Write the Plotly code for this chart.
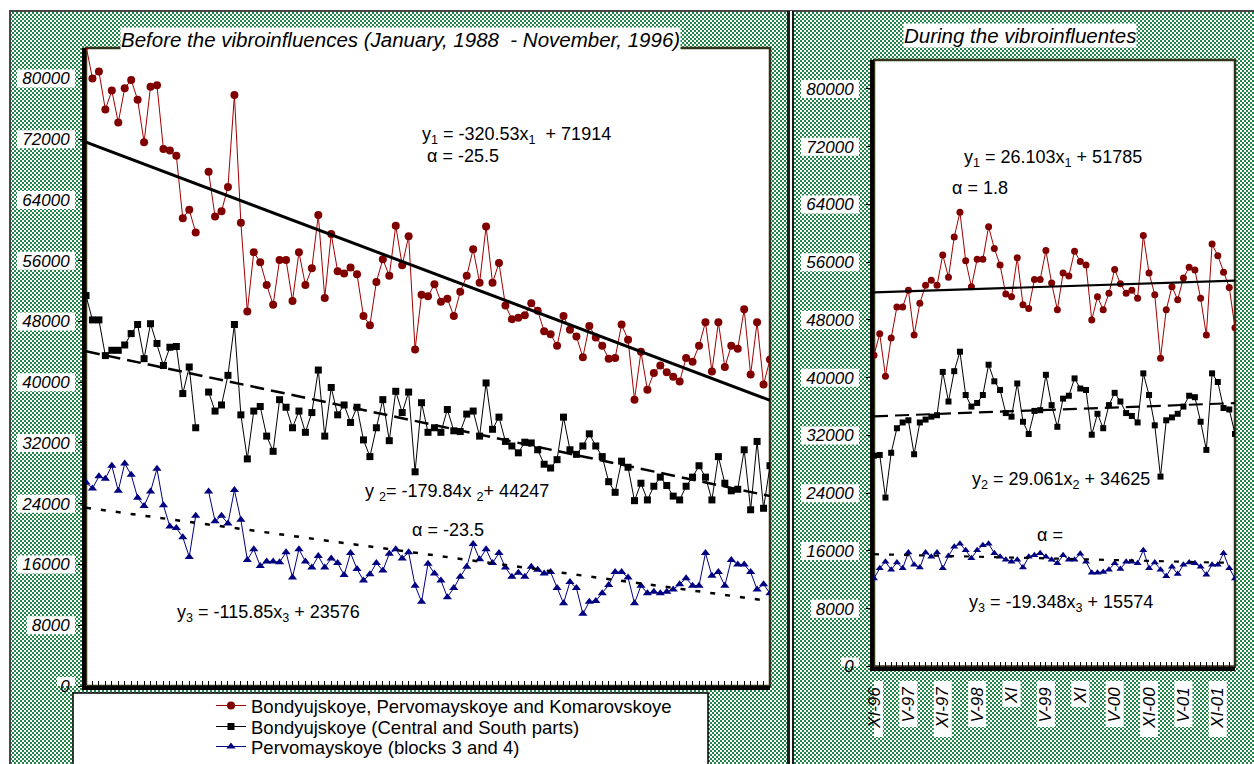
import base64
import struct
import zlib

import numpy as np
import plotly.graph_objects as go

W, H = 1254, 764

# ---------------- data (values in thousands) ----------------
# Left panel: January 1988 - November 1996 (monthly, 107 points; one month missing)
red_left_k = [84.3, 80.0, 80.9, 75.9, 78.4, 74.2, 78.7, 79.8, 77.2, 71.6,
              78.9, 79.1, 70.7, 70.5, 69.8, 61.6, 62.7, 59.7, None, 67.7,
              61.8, 62.5, 65.7, 77.8, 61.0, 49.3, 57.1, 55.8, 52.8, 50.2,
              56.1, 56.1, 50.7, 57.1, 52.8, 55.0, 62.0, 51.1, 59.5, 54.6,
              54.3, 55.1, 54.2, 48.7, 47.5, 53.2, 56.2, 54.0, 60.6, 55.4,
              59.2, 44.3, 51.5, 51.3, 52.9, 50.6, 51.0, 48.7, 51.9, 54.0,
              57.5, 53.1, 60.5, 53.1, 55.7, 50.1, 48.3, 48.5, 48.8, 50.4,
              49.4, 46.7, 46.3, 44.8, 48.7, 46.9, 46.0, 43.3, 47.4, 45.9,
              44.8, 43.1, 43.2, 47.6, 45.6, 37.7, 44.0, 39.0, 41.2, 42.2,
              41.3, 40.7, 40.1, 43.2, 42.7, 44.8, 47.9, 41.4, 47.9, 42.0,
              44.8, 44.4, 49.6, 41.0, 47.9, 39.7, 43.0]
black_left_k = [51.4, 48.2, 48.2, 43.5, 44.2, 44.2, 44.9, 46.4, 47.6, 43.1,
                47.7, 45.1, 42.2, 44.6, 44.7, 38.5, 42.0, 34.0, None, 38.7,
                36.2, 37.0, 40.9, 47.6, 35.7, 29.9, 36.2, 36.8, 32.9, 30.9,
                37.7, 36.7, 34.0, 36.2, 33.4, 36.0, 41.6, 32.9, 39.3, 35.7,
                37.0, 34.7, 36.7, 32.4, 30.2, 34.0, 37.7, 32.3, 38.8, 36.0,
                38.7, 28.2, 37.3, 33.4, 34.0, 33.4, 36.4, 33.6, 33.5, 35.8,
                36.2, 32.9, 39.9, 33.8, 35.4, 32.2, 31.6, 30.7, 32.1, 32.0,
                31.1, 29.2, 28.7, 29.8, 35.4, 31.1, 30.5, 31.6, 33.2, 31.6,
                30.2, 26.9, 25.5, 29.6, 28.8, 24.4, 26.7, 24.5, 26.3, 27.5,
                26.4, 25.0, 24.5, 26.3, 27.5, 29.0, 27.5, 24.5, 30.2, 26.7,
                25.7, 25.9, 31.1, 23.2, 32.2, 23.4, 29.0]
blue_left_k = [26.8, 26.0, 27.6, 27.3, 29.0, 25.7, 29.3, 27.8, 24.8, 23.7,
               25.6, 28.6, 23.8, 21.0, 20.8, 19.6, 17.0, 22.4, None, 25.6,
               21.7, 22.4, 21.4, 25.8, 21.9, 16.6, 18.0, 15.8, 16.4, 16.4,
               16.3, 17.6, 14.3, 18.0, 16.4, 15.6, 17.1, 15.6, 16.8, 16.2,
               14.6, 17.5, 15.4, 13.9, 14.7, 16.2, 15.2, 17.4, 18.0, 16.8,
               17.6, 13.2, 11.1, 16.1, 14.8, 13.9, 11.7, 12.9, 14.4, 15.7,
               18.7, 16.7, 18.0, 16.2, 17.5, 15.6, 14.4, 14.9, 14.4, 15.7,
               15.3, 14.8, 15.0, 12.9, 10.9, 13.7, 12.9, 9.5, 11.1, 11.2,
               12.2, 13.3, 15.0, 15.0, 14.3, 10.9, 13.2, 12.2, 12.4, 12.2,
               12.4, 12.7, 13.4, 14.2, 13.2, 13.2, 17.5, 14.5, 15.0, 13.2,
               16.6, 16.0, 16.0, 15.0, 12.7, 13.4, 12.2]

# Right panel: November 1996 onwards (monthly, 64 points)
red_right_k = [43.1, 46.1, 40.2, 45.5, 49.8, 49.8, 52.1, 45.9, 50.3, 52.8,
               53.5, 52.8, 57.0, 53.9, 59.5, 62.9, 56.2, 52.6, 56.4, 56.4,
               60.9, 57.9, 55.6, 51.6, 51.2, 56.6, 50.1, 49.6, 53.6, 53.6,
               57.6, 53.1, 49.4, 54.5, 54.1, 57.5, 56.1, 55.6, 48.0, 51.2,
               49.4, 51.7, 55.0, 53.0, 51.7, 52.1, 51.0, 59.7, 54.5, 51.5,
               42.7, 49.4, 52.6, 50.8, 53.8, 55.3, 54.9, 51.0, 45.9, 58.5,
               56.9, 54.6, 52.5, 46.9]
black_right_k = [29.2, 29.3, 23.4, 29.6, 33.0, 33.8, 34.1, 29.4, 33.8, 34.2,
                 34.6, 34.8, 40.8, 36.7, 40.9, 43.6, 37.6, 36.0, 36.5, 37.6,
                 41.8, 39.5, 38.3, 35.1, 34.6, 39.2, 33.9, 32.2, 35.4, 35.5,
                 40.4, 36.2, 33.2, 37.1, 37.5, 39.9, 38.5, 38.3, 32.1, 35.0,
                 33.0, 36.2, 37.9, 36.7, 35.1, 34.7, 33.8, 40.6, 37.6, 33.4,
                 26.3, 34.1, 34.5, 35.0, 36.0, 37.5, 37.3, 33.9, 30.0, 40.6,
                 39.4, 35.8, 35.6, 32.2]
blue_right_k = [12.2, 13.6, 14.5, 13.4, 14.4, 13.6, 15.8, 14.1, 13.7, 15.8,
                15.2, 15.8, 13.6, 15.3, 16.6, 17.0, 16.1, 15.0, 16.1, 16.8,
                17.0, 15.7, 15.2, 14.8, 14.5, 14.8, 13.7, 15.2, 15.4, 15.7,
                15.2, 14.8, 14.3, 15.4, 14.8, 14.8, 15.6, 14.5, 13.0, 13.0,
                13.1, 13.4, 14.3, 13.5, 14.5, 14.5, 14.3, 16.1, 13.6, 14.4,
                13.4, 12.5, 13.8, 12.8, 14.1, 14.4, 14.3, 13.8, 12.7, 14.1,
                14.1, 15.7, 13.6, 12.2]

series_names = ["Bondyujskoye, Pervomayskoye and Komarovskoye",
                "Bondyujskoye (Central and South parts)",
                "Pervomayskoye (blocks 3 and 4)"]

# Linear trends printed on the chart (y = slope * x + intercept, x = 1..N)
left_slopes = [-320.53, -179.84, -115.85]
left_intercepts = [71914, 44247, 23576]
right_slopes = [26.103, 29.061, -19.348]
right_intercepts = [51785, 34625, 15574]

y_ticks = [0, 8000, 16000, 24000, 32000, 40000, 48000, 56000, 64000, 72000, 80000]
right_xtick_pos = [0, 6, 12, 18, 24, 30, 36, 42, 48, 54, 60]
right_xtick_text = ["XI-96", "V-97", "XI-97", "V-98", "XI", "V-99", "XI",
                    "V-00", "XI-00", "V-01", "XI-01"]

left_title = "Before the vibroinfluences (January, 1988\u00a0 - November, 1996)"
right_title = "During the vibroinfluentes"


def k(vals):
    return [None if v is None else v * 1000 for v in vals]


red_left, black_left, blue_left = k(red_left_k), k(black_left_k), k(blue_left_k)
red_right, black_right, blue_right = k(red_right_k), k(black_right_k), k(blue_right_k)

# ---------------- background pattern image ----------------
yy, xx = np.mgrid[0:H, 0:W]
mask = ((xx // 2) + (yy // 2)) % 2 == 0
img = np.full((H, W, 3), 255, np.uint8)
img[mask] = (34, 134, 72)
img[:10, :] = 255
img[:, :9] = 255
img[10:12, 9:] = (70, 70, 70)
img[10:, 9:11] = (70, 70, 70)
img[11:, 787:790] = (25, 25, 25)
img[11:, 790:792] = 255
img[11:, 792:794] = (25, 25, 25)


def png_b64(arr):
    h, w, _ = arr.shape
    raw = b"".join(b"\x00" + arr[r].tobytes() for r in range(h))

    def chunk(tag, data):
        c = struct.pack(">I", len(data)) + tag + data
        return c + struct.pack(">I", zlib.crc32(tag + data) & 0xFFFFFFFF)

    png = (b"\x89PNG\r\n\x1a\n"
           + chunk(b"IHDR", struct.pack(">IIBBBBB", w, h, 8, 2, 0, 0, 0))
           + chunk(b"IDAT", zlib.compress(raw, 9))
           + chunk(b"IEND", b""))
    return "data:image/png;base64," + base64.b64encode(png).decode()


FONT = "Liberation Sans, Arial, sans-serif"
RED, RED_LINE = "#800000", "#a00000"
BLUE = "#000080"

fig = go.Figure()

styles = [
    dict(color=RED, line=RED_LINE, symbol="circle", size=8),
    dict(color="black", line="black", symbol="square", size=7),
    dict(color=BLUE, line=BLUE, symbol="triangle-up", size=8),
]
legend_ids = ["legend", "legend2", "legend3"]

left_data = [red_left, black_left, blue_left]
right_data = [red_right, black_right, blue_right]

for i, ys in enumerate(left_data):
    st = styles[i]
    fig.add_trace(go.Scatter(
        x=list(range(len(ys))), y=ys, mode="lines+markers", name=series_names[i],
        line=dict(color=st["line"], width=1),
        marker=dict(symbol=st["symbol"], size=st["size"], color=st["color"]),
        connectgaps=False, xaxis="x", yaxis="y", showlegend=True,
        legend=legend_ids[i]))

for i, ys in enumerate(right_data):
    st = styles[i]
    fig.add_trace(go.Scatter(
        x=list(range(len(ys))), y=ys, mode="lines+markers", name=series_names[i],
        line=dict(color=st["line"], width=1),
        marker=dict(symbol=st["symbol"], size=st["size"] - 1, color=st["color"]),
        xaxis="x2", yaxis="y2", showlegend=False))

dashes = ["solid", "14px,7px", "5px,10px"]
widths_left = [3, 2.5, 2.5]
n_left = len(red_left)
for i in range(3):
    xs = [0, n_left - 1]
    ys = [left_slopes[i] * (x + 1) + left_intercepts[i] for x in xs]
    fig.add_trace(go.Scatter(x=xs, y=ys, mode="lines",
                             line=dict(color="black", width=widths_left[i], dash=dashes[i]),
                             xaxis="x", yaxis="y", showlegend=False, hoverinfo="skip"))
n_right = len(red_right)
for i in range(3):
    xs = [0, n_right - 1]
    ys = [right_slopes[i] * (x + 1) + right_intercepts[i] for x in xs]
    fig.add_trace(go.Scatter(x=xs, y=ys, mode="lines",
                             line=dict(color="black", width=2.2, dash=dashes[i]),
                             xaxis="x2", yaxis="y2", showlegend=False, hoverinfo="skip"))

tickfont = dict(family=FONT, size=17, color="black", style="italic")
common_y = dict(range=[0, 84000], tickvals=y_ticks, ticktext=[str(v) for v in y_ticks],
                showline=True, linewidth=4, linecolor="black", ticks="outside",
                ticklen=4, tickcolor="black", showgrid=False, zeroline=False,
                tickfont=tickfont, fixedrange=True)

legend_rows = [706, 727, 747]
legend_layout = {}
for lid, row in zip(legend_ids, legend_rows):
    legend_layout[lid] = dict(x=211 / W, y=1 - row / H, xanchor="left", yanchor="middle",
                              bgcolor="rgba(0,0,0,0)", borderwidth=0,
                              font=dict(family=FONT, size=18.5, color="black"))

fig.update_layout(
    width=W, height=H, margin=dict(l=0, r=0, t=0, b=0, autoexpand=False),
    paper_bgcolor="white", plot_bgcolor="white",
    font=dict(family=FONT, color="black"),
    xaxis=dict(domain=[86 / W, 770 / W], range=[0, n_left - 1], anchor="y",
               showline=True, linewidth=4, linecolor="black", ticks="inside",
               tick0=0, dtick=1, ticklen=5, tickcolor="black", showticklabels=False,
               showgrid=False, zeroline=False),
    yaxis=dict(domain=[1 - 686 / H, 1 - 48 / H], anchor="x", ticklabelstandoff=5, **common_y),
    xaxis2=dict(domain=[874 / W, 1235 / W], range=[0, n_right - 1], anchor="y2",
                showline=True, linewidth=4, linecolor="black", ticks="inside",
                tickvals=right_xtick_pos, ticktext=right_xtick_text, ticklen=5,
                tickcolor="black", tickangle=-90, tickfont=tickfont,
                ticklabelstandoff=10,
                minor=dict(dtick=1, tick0=0, ticks="inside", ticklen=5, tickcolor="black"),
                showgrid=False, zeroline=False),
    yaxis2=dict(domain=[1 - 666.5 / H, 1 - 60 / H], anchor="x2", ticklabelstandoff=9, **common_y),
    images=[dict(source=png_b64(img), xref="paper", yref="paper", x=0, y=1,
                 sizex=1, sizey=1, sizing="stretch", xanchor="left", yanchor="top",
                 layer="below")],
    **legend_layout,
)

shapes = []
# plot areas
for xr, yr in (("x domain", "y domain"), ("x2 domain", "y2 domain")):
    shapes.append(dict(type="rect", xref=xr, yref=yr, x0=0, x1=1, y0=0, y1=1,
                       fillcolor="white", line=dict(color="#33331a", width=2.5),
                       layer="below"))
# legend box
shapes.append(dict(type="rect", xref="paper", yref="paper", x0=73 / W, x1=708 / W,
                   y0=-0.02, y1=1 - 693 / H, fillcolor="white",
                   line=dict(color="black", width=1.5), layer="below"))
# white boxes behind y tick labels
for yref, right_edge in (("y", 75 / W), ("y2", 859 / W)):
    for v in y_ticks:
        wbox = 10 * len(str(v)) + 8
        shapes.append(dict(type="rect", xref="paper", xsizemode="pixel", xanchor=right_edge,
                           x0=-wbox, x1=0, yref=yref, ysizemode="pixel", yanchor=v,
                           y0=-9, y1=9, fillcolor="white", line=dict(width=0),
                           layer="below"))
# white boxes behind rotated x tick labels (right panel)
for pos, txt in zip(right_xtick_pos, right_xtick_text):
    hbox = 10 * len(txt) + 6
    shapes.append(dict(type="rect", xref="x2", xsizemode="pixel", xanchor=pos,
                       x0=-9, x1=9, yref="paper", ysizemode="pixel",
                       yanchor=1 - 681 / H, y0=-hbox, y1=0, fillcolor="white",
                       line=dict(width=0), layer="below"))
fig.update_layout(shapes=shapes)

eq_font = dict(family=FONT, size=18, color="black")
title_font = dict(family=FONT, size=20.5, color="black")
ann = [
    dict(text="<i>" + left_title + "</i>", xref="paper", yref="paper", x=400 / W,
         y=1 - 39 / H, xanchor="center", yanchor="middle", showarrow=False,
         bgcolor="white", borderpad=0, font=title_font),
    dict(text="<i>" + right_title + "</i>", xref="paper", yref="paper", x=1020 / W,
         y=1 - 36 / H, xanchor="center", yanchor="middle", showarrow=False,
         bgcolor="white", borderpad=0, font=title_font),
    dict(text="y<sub>1</sub> = -320.53x<sub>1</sub>  + 71914", x=51.8, y=72500, xref="x", yref="y"),
    dict(text="α = -25.5", x=52.6, y=69800, xref="x", yref="y"),
    dict(text="y <sub>2</sub>= -179.84x <sub>2</sub>+ 44247", x=42.9, y=25500, xref="x", yref="y"),
    dict(text="α = -23.5", x=50.2, y=20500, xref="x", yref="y"),
    dict(text="y<sub>3</sub> = -115.85x<sub>3</sub> + 23576", x=13.8, y=9600, xref="x", yref="y"),
    dict(text="y<sub>1</sub> = 26.103x<sub>1</sub> + 51785", x=15.4, y=70300, xref="x2", yref="y2"),
    dict(text="α = 1.8", x=13.3, y=66300, xref="x2", yref="y2"),
    dict(text="y<sub>2</sub> = 29.061x<sub>2</sub> + 34625", x=16.8, y=25700, xref="x2", yref="y2"),
    dict(text="α =", x=28.1, y=18200, xref="x2", yref="y2"),
    dict(text="y<sub>3</sub> = -19.348x<sub>3</sub> + 15574", x=16.2, y=8700, xref="x2", yref="y2"),
]
for a in ann[2:]:
    a.update(xanchor="left", yanchor="middle", showarrow=False, font=eq_font)
fig.update_layout(annotations=ann)

fig.write_html("out.html", config={"displayModeBar": False},
               post_script="document.body.style.margin='0';document.body.style.overflow='hidden';")
